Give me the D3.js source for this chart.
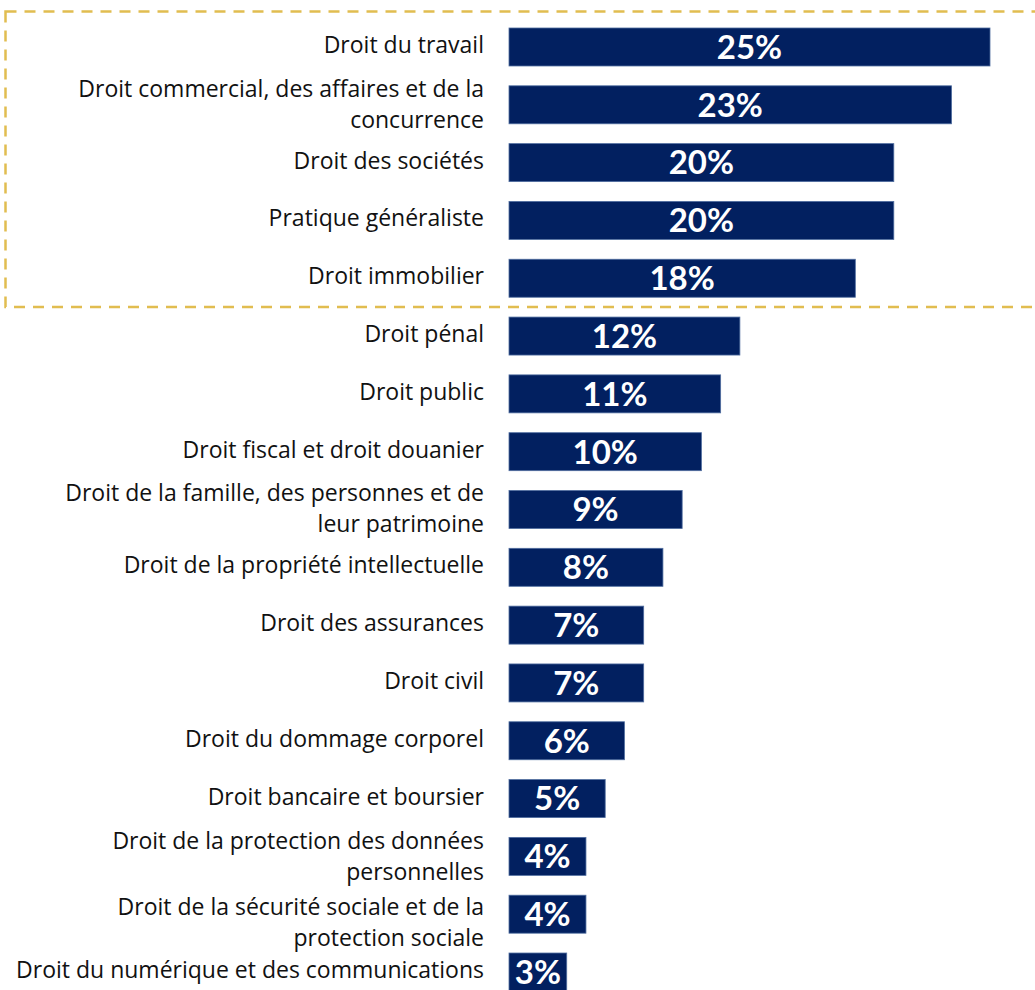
<!DOCTYPE html>
<html><head><meta charset="utf-8">
<script src="https://cdn.jsdelivr.net/npm/d3@7"></script>
<style>body{margin:0;background:#fff}svg{display:block}</style>
</head><body>
<script>
const categories = [
  ["Droit du travail"],
  ["Droit commercial, des affaires et de la", "concurrence"],
  ["Droit des sociétés"],
  ["Pratique généraliste"],
  ["Droit immobilier"],
  ["Droit pénal"],
  ["Droit public"],
  ["Droit fiscal et droit douanier"],
  ["Droit de la famille, des personnes et de", "leur patrimoine"],
  ["Droit de la propriété intellectuelle"],
  ["Droit des assurances"],
  ["Droit civil"],
  ["Droit du dommage corporel"],
  ["Droit bancaire et boursier"],
  ["Droit de la protection des données", "personnelles"],
  ["Droit de la sécurité sociale et de la", "protection sociale"],
  ["Droit du numérique et des communications"]
];
const values = [25, 23, 20, 20, 18, 12, 11, 10, 9, 8, 7, 7, 6, 5, 4, 4, 3];

const W = 1035, H = 990;
const svg = d3.select("body").append("svg").attr("width", W).attr("height", H);

const keys = categories.map((c, i) => i);
const y = d3.scaleBand().domain(keys).range([28, 991]).paddingInner(0.343).paddingOuter(0);
const x = d3.scaleLinear().domain([0, 25]).range([509, 990]);

// highlight box around the top five categories
svg.append("rect")
  .attr("x", 5.5).attr("y", 11.5)
  .attr("width", 1040).attr("height", 295.5)
  .attr("fill", "none").attr("stroke", "#e1bd50").attr("stroke-width", 2.5)
  .attr("stroke-dasharray", "11,8");

const g = svg.append("g");
g.selectAll("rect.bar").data(values).join("rect")
  .attr("class", "bar")
  .attr("x", x(0)).attr("y", (d, i) => y(i))
  .attr("width", d => x(d) - x(0)).attr("height", y.bandwidth())
  .attr("fill", "#022060").attr("stroke", "#4f6d9f").attr("stroke-width", 0.8);

g.selectAll("text.val").data(values).join("text")
  .attr("class", "val")
  .attr("x", d => (x(0) + x(d)) / 2)
  .attr("y", (d, i) => y(i) + y.bandwidth() / 2)
  .attr("dy", "0.36em")
  .attr("text-anchor", "middle")
  .attr("fill", "#fff").attr("font-family", "Lato, sans-serif").attr("font-weight", 700)
  .attr("font-size", 33)
  .text(d => d + "%");

// small vertical nudges for wrapped labels, as laid out in the original
const nudge = {1: -0.5, 8: -1.5, 14: 0, 15: 8};
const lineH = 31;
const labels = g.selectAll("text.cat").data(categories).join("text")
  .attr("class", "cat")
  .attr("text-anchor", "end")
  .attr("font-family", "'Open Sans', sans-serif").attr("font-size", 23).attr("fill", "#111");
labels.each(function(lines, i) {
  const cy = y(i) + y.bandwidth() / 2;
  const n = lines.length;
  const off = n > 1 ? (nudge[i] || 0) : -2;
  lines.forEach((t, j) => {
    d3.select(this).append("tspan")
      .attr("x", 484)
      .attr("y", cy + (j - (n - 1) / 2) * lineH + off)
      .attr("dy", "0.35em")
      .text(t);
  });
});
</script>
</body></html>
